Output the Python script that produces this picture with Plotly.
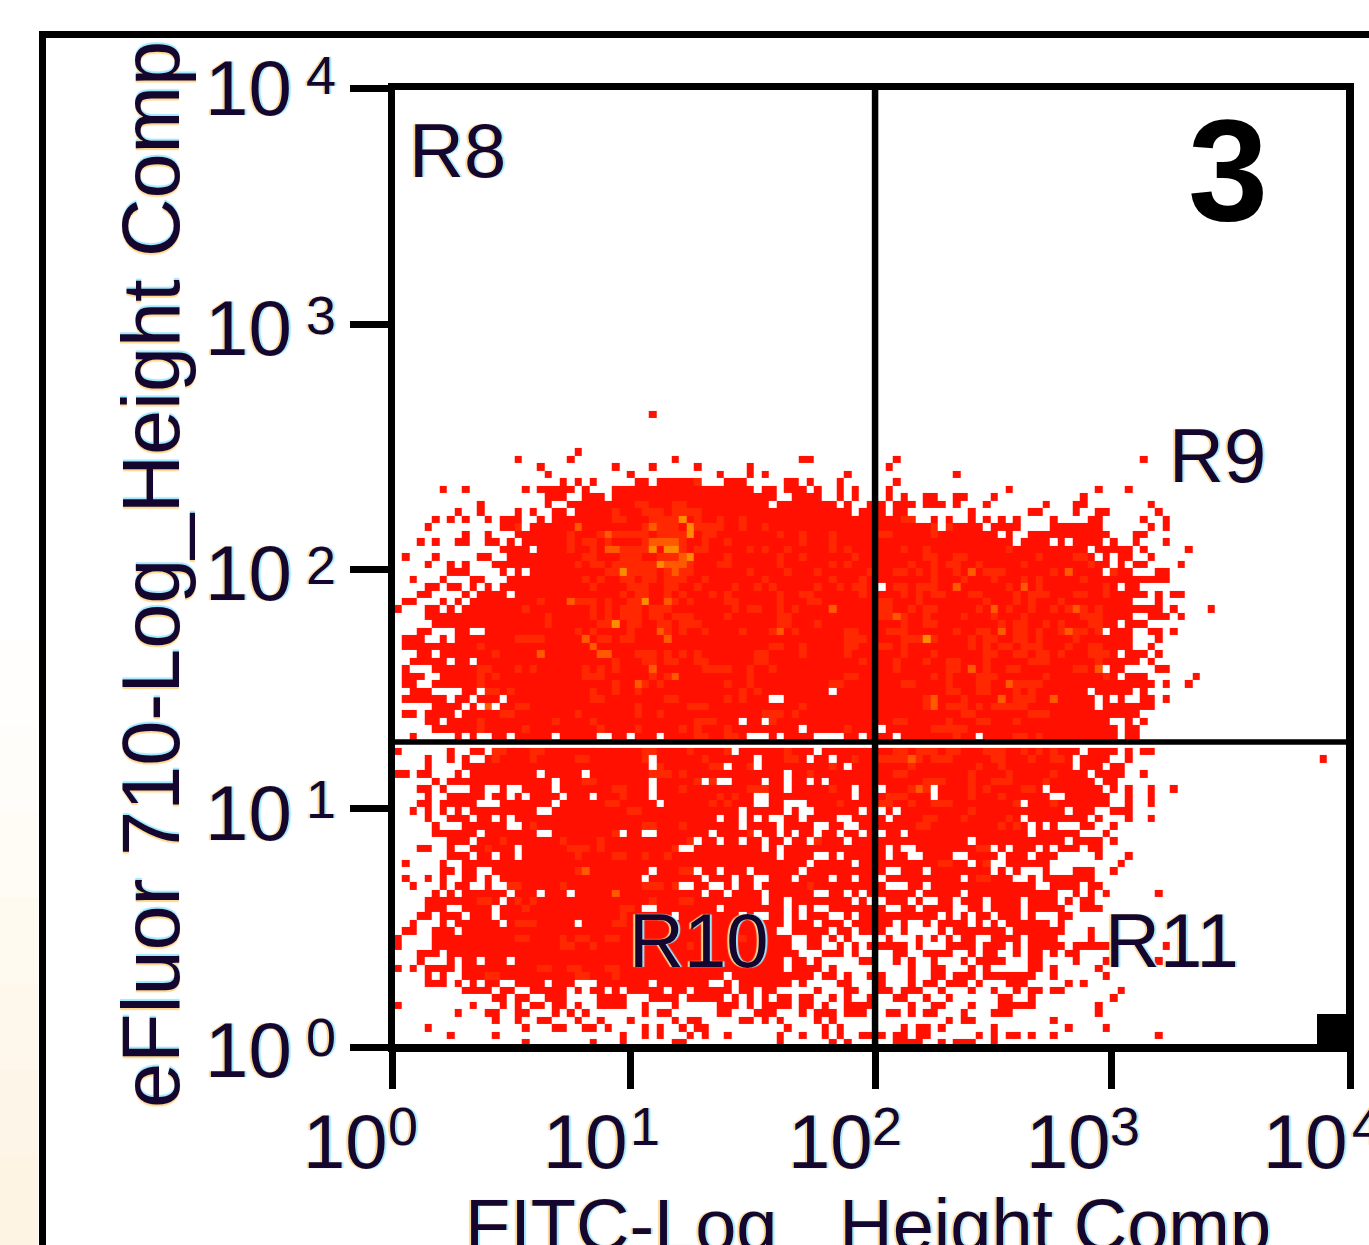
import numpy as np
import plotly.graph_objects as go

# Occupied channels of each display row, top row first ("a-b" = run of channels).
FILLED_LEFT = [
"34","","","","","24","16 23 37 54-55","19 29 34 40 47","20 31 43 47 49 60",
"22 24 26 32-33 35-40 44-46 52-53 55 59",
"6 9 17 19-23 25 29-47 49-50 52-54 56 59 61",
"20-22 25-27 29-50 53-56 59 61",
"11 20 23-49 51-58 60 63",
"8 11 16 18 21-22 24-60 62-63",
"5 7 9 12 14-16 19 21-63",
"4 14-16 18-63",
"9 12 16-63",
"3 5 8-9 12-13 15 17-63",
"14-17 19-63",
"1 5 11-12 15-63",
"4 7 9 13-63",
"7-9 14 16 18-63",
"2 6 10-11 15-63",
"4-5 7-8 10 12 14-63",
"3-4 9 11-14 16-63",
"1-2 6 8 10-63",
"0 4-5 7 9-63",
"4-63",
"5-63",
"3-4 8-9 12-63",
"1-3 6 8-63",
"1-63",
"3-4 6-63",
"2-6 8-9 11-63",
"1 5-63",
"1-3 6-63",
"1-2 5-63",
"2-4 9-10 12-57 59-63",
"1-6 8-9 11-13 15-49 52-63",
"5-8 10 12 14-63",
"1-2 4-7 9-63",
"4-5 7-45 47-48 50-63",
"5-53 55-63",
"2 8 10 13-14 16-20 22-26 29-30 32-34 36-46 50 52-55 60-61 63",
"",
"0 7 10-11 13-44 46-55 57-63",
"4 7 9 12-33 35-47 49-54 56-57 59-63",
"4 9-33 35-43 45-47 49-59 61-63",
"0-1 3-4 8 10-18 20-24 26-51 53-63",
"5 7-20 22-33 35-40 42 45-48 50-51 53-54 56 58-63",
"3-4 6 10-11 14 17-20 22-33 35-51 53-60 62-63",
"4 7-11 13-14 16 18-21 23-25 27-33 35-47 50-60 62-63",
"3-4 6-10 14-20 22-34 36-47 50-51 55-63",
"2 4 6 8 10-18 21-45 47-51 53 56-61 63",
"4 7-9 11-12 14 16-42 44-45 47 49 52-53 55-58 61-63",
"5 9-14 17-45 47-50 52-55 58-59 62-63",
"5-10 12-18 21-29 31-32 35-41 43-47 49-50 52 54-55 57-58 60-61 63",
"7-9 11-39 41-42 44-45 47-48 50-51 53-54 56-59 61-63",
"3-4 7 10-15 17-33 34-37 40-48 50 52-63",
"7-9 11-12 14-15 17-50 52-55 58 60-63",
"1 6 9-20 21-54 56-60 62-63",
"6-7 9-10 13-32 33 35-39 41-42 44-46 48-53 55-63",
"1 4 6 9-10 12 14-32 34-40 42-44 46-47 50-52 54-57 59-60 62-63",
"2 6 8-9 12 15-37 40-41 44 46-47 49-63",
"5 7 9-14 16-18 20-22 24-40 42-43 45-48 50-55 58-59 61 63",
"4-13 15-48 50-51 53-60 62",
"4-6 9-12 14-32 35-42 44-51 53 55 58-63",
"3-4 6-8 10-12 14-36 38-45 47 50-51 53 55-57 60 62-63",
"2 6 8-11 12-13 15-23 25-51 53-55 57-59 61-63",
"1-2 5-7 9-50 53-56 57 59-60 62-63",
"0 5-52 55-56 58 60",
"0 5-52 55-56 59 61 63",
"3-5 7-53 57-59 61",
"3 7 9-10 12-14 16-51 53-54 56 62-63",
"0 2 4-7 9-51 53-56 58",
"4 6 9-43 45-55 57-58 60 63",
"4-6 8 10 12-13 16-19 21-23 27-33 35-39 40-41 44 46-52 54 59-60",
"9-12 14-15 18-22 24 26-27 29 31-35 37-38 40-44 46-47 49-50 56 60-61",
"13-14 16-17 20-22 27-30 34-37 39-43 45 47 49 51-52 54-55 58 60 63",
"0 10 14 16 18-19 21-22 24 27-30 33 37 43-45 47 49-52 54-55 57 60-63",
"8 12-13 16-17 21 23 25 33 35-36 43-44 48-50 54 56-58 60-62",
"13 16 19-20 24 27 31 37 39-40 46-47 49 51 56 58",
"4 17 21-22 25-26 28 33 35 38 40-41 52 57 59",
"7 13 30 33 35 39 41 44 51 54 57 59 62-63",
"17 26 30 37-38 51 58 60",
"",
]

FILLED_RIGHT = [
"","","","","","","67 100","66","75","67",
"66 82 94 98",
"66 68 71-72 75-76 80 92",
"65 67-69 71-73 75 79 87 91-92 101",
"65 67-68 77 85-86 91 94-95 102",
"65-69 72 74 77 79 81 83 88 93-94 100 103",
"65-72 74-78 80-83 88-94 101 103",
"65-80 82 85-95 99-100",
"65-82 84-87 89 91-94 96 99 103",
"65-92 94-98 100 106",
"65-93 95 97-98 101",
"65-95 97 99-100 105",
"65-94 96-98 102-103",
"65-103",
"66-96 98-99",
"65-100 102 104-105",
"65-98 102",
"65-102 104 109",
"65-98 101-103 105",
"65-96 98-100",
"65-94 96-98 101-102 104",
"65-98 102",
"65-98 101",
"65-96 98-100 102",
"65-99 101",
"65-94 96-97 102-103",
"65-96 98-100 107",
"65-101 103 106",
"65-92 94-98 100",
"65-93 95 97 100-101 103",
"65-93 95-101",
"65-99",
"65-95 98 100",
"66-96 98-99",
"65-66 68-77 79-96 98-99",
"",
"65-91 93-96 98 100-101",
"65-90 92-95 98 124",
"65-90 92-94 96-97",
"65-92 94-97 100",
"65-93 95-96",
"66-71 73-86 88-94 96 98 101 104",
"65-71 73-87 90-95 98 101",
"65-83 85-95 98 101",
"66 68-89 91-93 96-98",
"65 67-83 85-92 94 98 101",
"65-84 86 88 92-93 96",
"66-67 69-84 86-91 95",
"65-76 78-89 91-94 96",
"65 67 70-79 81 83-85 87 89-91 93-94",
"65 67-68 71-74 77-80 82-84 86-88 94 98",
"65-76 78-79 82-87 97",
"65 68-70 72-79 81 83 87 91-93 96",
"66-75 77-82 85 87-93",
"65 69-70 72-85 88-89 90-91 93-94",
"65-69 71-75 77-88 91 93 95 102",
"66-68 70 73-74 76-78 80-83 85-88 90 92-93",
"65 68-69 71-74 77-78 80-83 85-89 92-94",
"65-72 74 76 78-79 81-83 85 89-90",
"65-66 68 71 73-76 78 80 82-87 89",
"65 68 73 75-81 83-89 93",
"66 70 72 74 76-77 80-83 85-88 93",
"65-68 70 74-77 79-81 83 85-89 91-95 103",
"67-68 71-74 77 79-80 83 85-86 88 90-91",
"67 69 72 76 78-81 85-86 91 95 102",
"69 72-73 77 79 85-86 88 94",
"65 69 72-73 75-77 79-85 88 95",
"65 69 71-72 74-76 78 82-84 90 92",
"65-66 68-70 73 77 80 83 85-86 88-89 97",
"67-68 71 74 81-82 85 96",
"69 72-73 77 81-85 94",
"66-67 69 71-72 76 80-82 94",
"74 76-77 88",
"68 70-71 73 80 90 95",
"65 67-68 70-71 78 80 82-83 85 88 102",
"67-70 73 75-77 80",
"",
]

# Slightly warmer cells, "row:channels".
WARM_CELLS = [
"9:40","12:32 33 37 38","13:29 33 34 35 37 38 39 40","14:29 30 34 35 36 37 40 43 46",
"15:16 24 33 35 36 37 40 41 42 43 46 49","16:23 27 29 30 31 32 33 35 36 37 38 41 42 51 54 58",
"17:23 25 26 28 33 38 41 44 54 58","18:23 26 30 31 32 33 38 40 41 47 49 52 58 60",
"19:25 26 30 31 32 35 36 37 38 44 51 54 61","20:24 26 27 29 30 31 32 33 34 39 43 44 51 58 60",
"21:28 29 31 32 33 34 36 38 39 47 52 56 63","22:25 27 30 31 33 34 36 37 38 41 49 58 62",
"23:26 31 32 33 36 37 40 45 48 50 56 59 61 62","24:30 32 33 36 38 42 44 51 54 55 62",
"25:19 24 25 26 28 31 32 33 37 39 44 45 51 55 56","26:17 26 28 30 31 32 34 35 36 45 47 48 51 53",
"27:20 26 28 30 31 32 34 35 37 38 39 44 51 52","28:20 27 28 31 32 35 36 38 39 40 51 52 56",
"29:24 26 31 36 38 41 46 50 53 60 61","30:16 17 18 19 27 28 30 31 60 61 62",
"31:11 26 50 51 54 60 61","32:13 32 33 34 36 38 40 48 49 54 60",
"33:29 33 34 36 37 40 41 48 49 62","34:11 12 16 18 25 27 29 34 41 42 43 44 47 50",
"35:11 13 25 26 27 34 36 47 60 61","36:11 29 32 33 35 44 47 58 59",
"37:12 13 15 26 29 32 46 48 58","38:26 27 36 37 44 46","39:12 16 17 32 39 40 41 54",
"40:14 15 24 32 35 49 50 51 53","41:11 21 26 40 41 42 50","42:11 17 27 32 38 40 44 60",
"43:40 41 44 45",
"45:13 14 18 19 33 34 39 44 52","46:13 18 24 25 33 41 52 53 61","47:35 42 43 47 58",
"48:34 35 36 38 55","49:25 26 40 41 42 55","50:15 29 30 38 47 48 49 52 58",
"51:30 43 45","52:28 29 42 44 59","53:31 32 55","55:18 33 34 38",
"56:20 29 47","57:14 22 27 39 56","58:12 23 24 25 27 37","59:24 29 30 33 36",
"61:24 25 38 39 40","63:15 16 22 33 34 35 37 55","65:11 12 16 18 34 38 39 63",
"66:17 30 31","67:30","68:16 17 18 29 30","70:16 17 22 24 25 28 29 46",
"71:22 23 26 39","74:19 20 23 24 28 29","75:12 13 24 25 29",
"14:68 69","15:72 74","16:65 66 72","18:68 71 82","19:71 72 75 76 86 91 92",
"20:69 72 74 75 78 84 93","21:67 68 70 72 75 79 80 81 88 96","22:72 76 80 84 86 92",
"23:67 68 70 71 72 82 84 86 95","24:68 70 72 73 77 78 83 85 86 87 91 92 95",
"25:65 66 70 79 83 85 89","26:65 66 69 71 72 78 80 82 85 88 90 92 94",
"27:65 66 68 71 76 80 84 92 93 94","28:68 71 72 81 83 84 87 89 93 94",
"29:66 67 68 75 78 79 83 84 86 89 90 91 92 94","30:68 69 70 72 77 79 80 83 84 86 91",
"31:65 66 68 77 79 81 82 84 85 86 90 93 94","32:68 72 79 80 83 84 86 87 89 93 94 95",
"33:67 71 74 75 79 85 86 87 94","34:67 74 75 77 79 82 83 91 92",
"35:72 74 78 79 80 87 95","36:68 69 74 78 79 83 84 85 86","37:74 75 78 79 83 85",
"38:71 72 76 83 84 85","39:71 72 74 75 76 78 80 81 82 83 84","40:76 77 85 86 87",
"41:67 68 74 78 79 83","42:72 73 74 75 76","43:75 83 84 86",
"45:67 68 70 71 72 74 75 79 80 81 84 86 88","46:65 66 67 68 70 72 73 74 80 81 85 88 89",
"47:69 78 81","48:67 68 77 82 88","49:71 72 73 77 80 81 82 87","50:69 71 77 79 84 85",
"51:66 67 68 77 81","52:65 66 69 72 73 74 83 88","53:77","54:71 72 76 82","55:70 71 81 83",
"58:78 79","60:73 74 79","61:80","62:78 79",
]

# Hotter cells of the densest clusters, "row:channels".
HOT_CELLS = [
"15:24 34 ","16:28","17:34 35 36 37","18:28 29","21:37","19:38","20:36 37 38",
"25:23 36","26:58","29:35 51","30:25 36","31:26","32:19 27 28","34:34","35:37","36:32",
"39:12","21:77 90","23:75 84","26:80 91","27:67","29:81 90","34:77 94","36:82","38:81 88 72","39:72",
"46:69","50:70","64:29","61:25",
]
HOTTEST_CELLS = ["14:38","15:39","16:39","18:34 36 37","19:39","20:35","21:30","25:33","28:29","30:71"]

X_TICK_DECADES = [0, 0.994, 2.017, 3.006, 4]
Y_TICK_DECADES = [0, 0.993, 1.990, 3.012, 4]
GATE_X_DECADE = 2.017
GATE_Y_DECADE = 1.272
X_TITLE = "FITC-Log_ Height Comp"
Y_TITLE = "eFluor 710-Log_Height Comp"
REGION_LABELS = ["R8", "R9", "R10", "R11"]
TICK_BASE = "10"
X_EXPONENTS = ["0", "1", "2", "3", "4"]
Y_EXPONENTS = ["0", "1", "2", "3", "4"]
LEVEL_COLORS = ["#ff1000", "#ff2800", "#ff5a00", "#ff8c00"]
BG_BAND_COLORS = ["#fffefc", "#fffdf9", "#fffcf5", "#fffaf0", "#fef8ec", "#fdf6e8", "#fdf4e3"]

ROWS, COLS = 86, 128
z = np.full((ROWS, COLS), np.nan)


def channels(text):
    out = []
    for tok in text.split():
        a, _, b = tok.partition("-")
        out.extend(range(int(a), int(b or a) + 1))
    return out


for r, row in enumerate(FILLED_LEFT):
    z[r, channels(row)] = 0
for r, row in enumerate(FILLED_RIGHT):
    z[r, channels(row)] = 0
for level, cells in ((1, WARM_CELLS), (2, HOT_CELLS), (3, HOTTEST_CELLS)):
    for item in cells:
        r_txt, ch_txt = item.split(":")
        for c in channels(ch_txt):
            if not np.isnan(z[int(r_txt), c]):
                z[int(r_txt), c] = level

x_edges = [10 ** ((c + 0.36) / 32) if c <= 64 else 10 ** ((c - 0.06) / 32) for c in range(COLS + 1)]
y_edges = [10 ** ((85.03 - r) / 32.05) for r in range(ROWS, -1, -1)]

L, R, T, B = 392, 1350, 88, 1047
W, H = 1369, 1245


def px(x):
    return (x - L) / (R - L)


def py(y):
    return (B - y) / (B - T)


cs = []
for i, col in enumerate(LEVEL_COLORS):
    cs += [[i / 4, col], [(i + 1) / 4, col]]

fig = go.Figure(go.Heatmap(
    x=x_edges, y=y_edges, z=z[::-1], zmin=-0.5, zmax=3.5, colorscale=cs,
    showscale=False, hoverinfo="skip", xgap=0, ygap=0))

FRINGE = "-2px 0 1px #ffd890, 2px 0 1px #9fe8ff"
INK = "#14062e"


def label(text, x, yc, size, color=INK, bold=False, angle=0, anchor="left", shadow=FRINGE):
    fig.add_annotation(
        text=f"<b>{text}</b>" if bold else text, xref="paper", yref="paper",
        x=px(x), y=py(yc), xanchor=anchor, yanchor="middle", showarrow=False,
        textangle=angle, borderpad=0, borderwidth=0,
        font=dict(family="Liberation Sans", size=size, color=color, shadow=shadow))


# y tick labels: "10" and exponent
for exp, yc_10, yc_e in zip(Y_EXPONENTS, [1050, 813, 573, 328, 88], [1037, 799, 565, 315, 75]):
    label(TICK_BASE, 205, yc_10, 78)
    label(exp, 306, yc_e, 54)
# x tick labels
for exp, x10, xe in zip(X_EXPONENTS, [303, 543, 788, 1026, 1263], [388, 630, 872, 1110, 1352]):
    label(TICK_BASE, x10, 1141, 76)
    label(exp, xe, 1126, 54)

for text, x, yc in zip(REGION_LABELS, [409, 1169, 629, 1105], [150, 455, 940, 940]):
    label(text, x, yc, 76)
label("3", 1188, 170, 144, color="#000000", bold=True, shadow="none")
label(Y_TITLE, 151, 575, 81, angle=-90, anchor="center")
label(X_TITLE, 868, 1225, 74, anchor="center")

shapes = []
# faint tint in the page background at the lower left
for i, col in enumerate(BG_BAND_COLORS):
    y0 = 640 + i * 86
    shapes.append(dict(type="rect", xref="paper", yref="paper", layer="below",
                       x0=px(0), x1=px(38), y0=py(y0), y1=py(y0 + 90),
                       fillcolor=col, line_width=0))
# outer frame
shapes.append(dict(type="path", xref="paper", yref="paper", layer="above",
                   path=f"M {px(42.5)} {py(1260)} L {px(42.5)} {py(34.5)} L {px(1380)} {py(34.5)}",
                   line=dict(color="#000000", width=7), fillcolor="rgba(0,0,0,0)"))
# plot frame
for x0, y0, x1, y1, w in [(388.5, 86.5, 1350, 86.5, 7), (391.5, 83, 391.5, 1052, 7),
                          (1350, 83, 1350, 1052, 8), (388, 1048, 1354, 1048, 8)]:
    shapes.append(dict(type="line", xref="paper", yref="paper", layer="above",
                       x0=px(x0), y0=py(y0), x1=px(x1), y1=py(y1),
                       line=dict(color="#000000", width=w)))
# quadrant gates
shapes.append(dict(type="line", xref="x", yref="paper", layer="above",
                   x0=10 ** GATE_X_DECADE, x1=10 ** GATE_X_DECADE, y0=0, y1=1,
                   line=dict(color="#000000", width=6.5)))
shapes.append(dict(type="line", xref="paper", yref="y", layer="above",
                   x0=0, x1=1, y0=10 ** GATE_Y_DECADE, y1=10 ** GATE_Y_DECADE,
                   line=dict(color="#000000", width=5.5)))
# small marker box in the corner
shapes.append(dict(type="rect", xref="paper", yref="paper", layer="above",
                   x0=px(1317), x1=px(1350), y0=py(1048), y1=py(1014),
                   fillcolor="#000000", line_width=0))

fig.update_layout(
    width=W, height=H, autosize=False,
    margin=dict(l=L, r=W - R, t=T, b=H - B, pad=0),
    paper_bgcolor="#ffffff", plot_bgcolor="#ffffff",
    showlegend=False, shapes=shapes,
    xaxis=dict(type="log", range=[0, 4], showgrid=False, zeroline=False, showline=False,
               tickmode="array", tickvals=[10 ** d for d in X_TICK_DECADES],
               showticklabels=False, ticks="outside", ticklen=41, tickwidth=7, tickcolor="#000000"),
    yaxis=dict(type="log", range=[0, 4], showgrid=False, zeroline=False, showline=False,
               tickmode="array", tickvals=[10 ** d for d in Y_TICK_DECADES],
               showticklabels=False, ticks="outside", ticklen=41, tickwidth=7, tickcolor="#000000"),
)

fig.write_html("out.html", config={"displayModeBar": False},
               post_script="document.body.style.margin='0';document.body.style.overflow='hidden';")
